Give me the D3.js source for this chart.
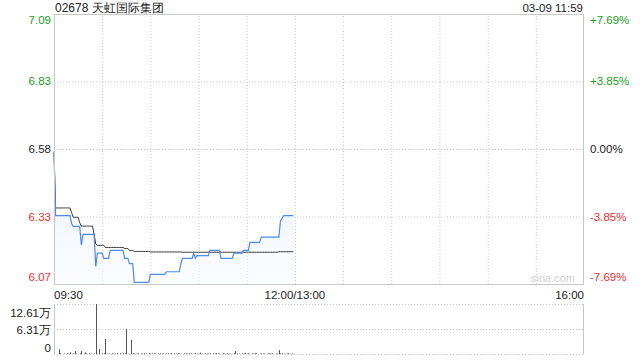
<!DOCTYPE html>
<html>
<head>
<meta charset="utf-8">
<script src="https://cdn.jsdelivr.net/npm/d3@7"></script>
<style>
  body { margin: 0; background: #fff; }
  svg { display: block; font-family: "Liberation Sans", Arial, sans-serif; }
</style>
</head>
<body>
<div id="chart"></div>
<script>
// stock info
const title = "02678 天虹国际集团";
const stamp = "03-09 11:59";
const prevClose = 6.58;

// axis labels
const pctTicks = [7.69, 3.85, 0, -3.85, -7.69];
const priceLabels = ["7.09", "6.83", "6.58", "6.33", "6.07"];
const pctLabels = ["+7.69%", "+3.85%", "0.00%", "-3.85%", "-7.69%"];
const timeTicks = [0, 150, 330];
const timeLabels = ["09:30", "12:00/13:00", "16:00"];
const volTicks = [126100, 63050, 0];
const volLabels = ["12.61万", "6.31万", "0"];

// minute data 09:30 - 11:59
const price = [
  6.57, 6.33, 6.33, 6.33, 6.33, 6.33, 6.33, 6.33, 6.33, 6.33,
  6.33, 6.30, 6.29, 6.29, 6.29, 6.29, 6.29, 6.22, 6.26, 6.26,
  6.26, 6.26, 6.26, 6.26, 6.26, 6.26, 6.14, 6.19, 6.19, 6.19,
  6.19, 6.17, 6.17, 6.17, 6.17, 6.20, 6.20, 6.20, 6.20, 6.20,
  6.20, 6.20, 6.20, 6.20, 6.17, 6.17, 6.17, 6.15, 6.15, 6.15,
  6.08, 6.08, 6.08, 6.08, 6.08, 6.08, 6.08, 6.08, 6.08, 6.08,
  6.11, 6.11, 6.11, 6.11, 6.11, 6.11, 6.11, 6.11, 6.11, 6.11,
  6.12, 6.12, 6.12, 6.12, 6.12, 6.12, 6.12, 6.12, 6.12, 6.15,
  6.17, 6.17, 6.17, 6.17, 6.17, 6.17, 6.17, 6.19, 6.17, 6.18,
  6.18, 6.18, 6.18, 6.18, 6.18, 6.18, 6.18, 6.20, 6.20, 6.20,
  6.20, 6.20, 6.20, 6.20, 6.17, 6.17, 6.17, 6.17, 6.17, 6.17,
  6.17, 6.17, 6.19, 6.19, 6.19, 6.19, 6.19, 6.19, 6.20, 6.20,
  6.20, 6.20, 6.23, 6.23, 6.23, 6.23, 6.23, 6.23, 6.23, 6.25,
  6.25, 6.25, 6.25, 6.25, 6.25, 6.25, 6.25, 6.25, 6.25, 6.25,
  6.25, 6.31, 6.32, 6.33, 6.33, 6.33, 6.33, 6.33, 6.33, 6.33
];

const avgPrice = [
  6.570, 6.359, 6.359, 6.359, 6.359, 6.359, 6.359, 6.359, 6.359, 6.359,
  6.359, 6.341, 6.324, 6.324, 6.324, 6.324, 6.304, 6.291, 6.291, 6.291,
  6.291, 6.291, 6.291, 6.291, 6.291, 6.260, 6.224, 6.219, 6.219, 6.219,
  6.219, 6.219, 6.211, 6.211, 6.211, 6.211, 6.211, 6.211, 6.211, 6.211,
  6.211, 6.211, 6.211, 6.211, 6.207, 6.207, 6.207, 6.200, 6.200, 6.200,
  6.196, 6.196, 6.196, 6.196, 6.196, 6.196, 6.196, 6.196, 6.196, 6.196,
  6.194, 6.194, 6.194, 6.194, 6.194, 6.194, 6.194, 6.194, 6.194, 6.194,
  6.194, 6.194, 6.194, 6.194, 6.194, 6.194, 6.194, 6.194, 6.194, 6.194,
  6.193, 6.193, 6.193, 6.193, 6.193, 6.193, 6.193, 6.193, 6.193, 6.193,
  6.193, 6.193, 6.193, 6.193, 6.193, 6.193, 6.193, 6.193, 6.193, 6.193,
  6.193, 6.193, 6.193, 6.193, 6.193, 6.193, 6.193, 6.193, 6.193, 6.193,
  6.193, 6.193, 6.193, 6.193, 6.193, 6.193, 6.193, 6.193, 6.193, 6.193,
  6.193, 6.193, 6.193, 6.193, 6.193, 6.193, 6.193, 6.193, 6.193, 6.193,
  6.193, 6.193, 6.193, 6.193, 6.193, 6.193, 6.193, 6.193, 6.193, 6.193,
  6.195, 6.195, 6.195, 6.195, 6.195, 6.195, 6.195, 6.195, 6.195, 6.195
];

const volume = [
  0, 0, 0, 11800, 2000, 0, 1500, 0, 2000, 1000,
  4300, 0, 1500, 7500, 1000, 0, 2000, 7500, 0, 4300,
  1500, 0, 2000, 1000, 0, 1500, 126100, 1000, 12600, 0,
  1500, 2000, 37800, 1000, 1500, 0, 2000, 1000, 1500, 2000,
  0, 1500, 1000, 2000, 1500, 63000, 1000, 0, 35300, 2000,
  1500, 1000, 2000, 0, 1500, 1000, 2000, 1500, 0, 2000,
  1000, 1500, 2000, 1000, 0, 1500, 2000, 1000, 1500, 0,
  2000, 1500, 1000, 2000, 0, 1500, 1000, 2000, 1500, 1000,
  0, 2000, 1500, 1000, 2000, 1500, 0, 1000, 2000, 1500,
  1000, 3500, 1500, 0, 2000, 1000, 1500, 2000, 0, 1500,
  1000, 2000, 1500, 1000, 0, 2000, 1500, 1000, 2000, 1500,
  0, 1000, 2000, 7500, 1500, 1000, 0, 2000, 1500, 3000,
  1000, 2000, 0, 1500, 1000, 2000, 1500, 0, 1000, 2000,
  1500, 1000, 0, 2000, 1500, 1000, 2000, 0, 1500, 1000,
  10000, 1500, 2000, 1000, 0, 1500, 2000, 1000, 1500, 0
];

const W = 640, H = 360;
const margin = { left: 54, right: 584, top: 14, bottom: 284 };
const vTop = 304, vBottom = 354;
const gridColor = "#c8c8c8";
const green = "#1a9f1a", red = "#f03030", dark = "#222";

const svg = d3.select("#chart").append("svg")
  .attr("width", W).attr("height", H);

const x = d3.scaleLinear().domain([0, 330]).range([margin.left, margin.right]);
const yPct = d3.scaleLinear().domain([-7.69, 7.69]).range([margin.bottom, margin.top]);
const y = p => yPct((p - prevClose) / prevClose * 100);
const yVol = d3.scaleLinear().domain([0, 126100]).range([vBottom, vTop]);

// gradient for area
const defs = svg.append("defs");
const grad = defs.append("linearGradient").attr("id", "fillGrad")
  .attr("x1", 0).attr("y1", 0).attr("x2", 0).attr("y2", 1);
grad.append("stop").attr("offset", "0%").attr("stop-color", "#e3ecfb").attr("stop-opacity", 0.8);
grad.append("stop").attr("offset", "100%").attr("stop-color", "#f6f9fe").attr("stop-opacity", 0.5);

// main grid: vertical every 30 minutes
svg.append("g")
  .attr("transform", "translate(0," + margin.bottom + ")")
  .call(d3.axisBottom(x).tickValues(d3.range(30, 330, 30)).tickSize(-(margin.bottom - margin.top)).tickFormat(""))
  .call(g => g.select(".domain").remove())
  .selectAll("line").attr("stroke", gridColor).attr("stroke-dasharray", "1,2");

// main grid: horizontal
svg.append("g")
  .attr("transform", "translate(" + margin.left + ",0)")
  .call(d3.axisLeft(yPct).tickValues([3.85, 0, -3.85]).tickSize(-(margin.right - margin.left)).tickFormat(""))
  .call(g => g.select(".domain").remove())
  .selectAll("line").attr("stroke", gridColor).attr("stroke-dasharray", "1,2");

// watermark
svg.append("text").attr("x", 575).attr("y", 282)
  .attr("text-anchor", "end").attr("font-size", 11).attr("fill", "#d0d0d0")
  .text("sina.com");

// area under price
const area = d3.area()
  .x((d, i) => x(i)).y0(margin.bottom).y1(d => y(d));
svg.append("path").datum(price).attr("d", area).attr("fill", "url(#fillGrad)");

// avg line
const line = d3.line().x((d, i) => x(i)).y(d => y(d));
svg.append("path").datum(avgPrice).attr("d", line)
  .attr("fill", "none").attr("stroke", "#3a3a3a").attr("stroke-width", 1);

// price line
svg.append("path").datum(price).attr("d", line)
  .attr("fill", "none").attr("stroke", "#4f8ae8").attr("stroke-width", 1.2);

// main border
svg.append("rect").attr("x", margin.left + 0.5).attr("y", margin.top + 0.5)
  .attr("width", margin.right - margin.left - 1).attr("height", margin.bottom - margin.top)
  .attr("fill", "none").attr("stroke", gridColor);

// left price labels
const colorOf = v => v > 0 ? green : (v < 0 ? red : dark);
const labelY = (v, i, n) => yPct(v) + (i === 0 ? 10 : (i === n - 1 ? -3 : 4));
svg.append("g").selectAll("text").data(pctTicks).enter().append("text")
  .attr("x", 51).attr("y", (d, i) => labelY(d, i, pctTicks.length))
  .attr("text-anchor", "end").attr("font-size", 11.5)
  .attr("fill", d => colorOf(d))
  .text((d, i) => priceLabels[i]);

// right pct labels
svg.append("g").selectAll("text").data(pctTicks).enter().append("text")
  .attr("x", 590).attr("y", (d, i) => labelY(d, i, pctTicks.length))
  .attr("text-anchor", "start").attr("font-size", 11.5)
  .attr("fill", d => colorOf(d))
  .text((d, i) => pctLabels[i]);

// title + stamp
svg.append("text").attr("x", 55).attr("y", 12).attr("font-size", 12).attr("fill", dark).text(title);
svg.append("text").attr("x", 583).attr("y", 12).attr("text-anchor", "end").attr("font-size", 11.5).attr("fill", dark).text(stamp);

// time labels
svg.append("g").selectAll("text").data(timeTicks).enter().append("text")
  .attr("x", d => x(d)).attr("y", 299)
  .attr("text-anchor", (d, i) => i === 0 ? "start" : (i === timeTicks.length - 1 ? "end" : "middle"))
  .attr("font-size", 11.5).attr("fill", dark)
  .text((d, i) => timeLabels[i]);

// volume grid
svg.append("g")
  .attr("transform", "translate(" + margin.left + ",0)")
  .call(d3.axisLeft(yVol).tickValues(volTicks).tickSize(-(margin.right - margin.left)).tickFormat(""))
  .call(g => g.select(".domain").remove())
  .selectAll("line").attr("stroke", gridColor).attr("stroke-dasharray", "1,2");
svg.append("line").attr("x1", margin.left + 0.5).attr("x2", margin.left + 0.5).attr("y1", vTop).attr("y2", vBottom).attr("stroke", gridColor);
svg.append("line").attr("x1", margin.right - 0.5).attr("x2", margin.right - 0.5).attr("y1", vTop).attr("y2", vBottom).attr("stroke", gridColor);

// volume bars
const volData = volume.map((v, i) => ({ i, v })).filter(d => d.v > 0);
svg.append("g").selectAll("rect").data(volData).enter().append("rect")
  .attr("x", d => Math.round(x(d.i)))
  .attr("y", d => yVol(d.v))
  .attr("width", 1)
  .attr("height", d => vBottom - yVol(d.v))
  .attr("fill", "#555");

// volume labels
svg.append("g").selectAll("text").data(volTicks).enter().append("text")
  .attr("x", 51).attr("y", (d, i) => [317, 334, 352][i])
  .attr("text-anchor", "end").attr("font-size", 11.5).attr("fill", dark)
  .text((d, i) => volLabels[i]);
</script>
</body>
</html>
